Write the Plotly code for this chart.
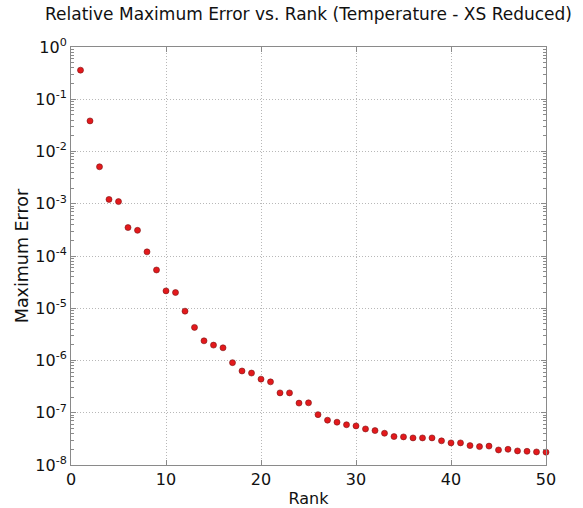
import plotly.graph_objects as go

# Rank of the reduced basis and relative maximum error at that rank
rank = list(range(1, 51))
max_error = [
    3.6e-1, 3.85e-2, 5.1e-3, 1.21e-3, 1.1e-3, 3.5e-4, 3.1e-4, 1.2e-4, 5.4e-5, 2.15e-5,
    2.0e-5, 8.8e-6, 4.3e-6, 2.38e-6, 1.97e-6, 1.75e-6, 9.1e-7, 6.3e-7, 5.75e-7, 4.4e-7,
    3.9e-7, 2.4e-7, 2.4e-7, 1.53e-7, 1.55e-7, 9.2e-8, 7.2e-8, 6.6e-8, 5.9e-8, 5.6e-8,
    4.9e-8, 4.56e-8, 4.05e-8, 3.5e-8, 3.45e-8, 3.3e-8, 3.3e-8, 3.3e-8, 2.9e-8, 2.65e-8,
    2.65e-8, 2.35e-8, 2.25e-8, 2.3e-8, 1.94e-8, 2.0e-8, 1.86e-8, 1.83e-8, 1.78e-8, 1.76e-8,
]

x_ticks = [0, 10, 20, 30, 40, 50]
y_exponents = list(range(-8, 1))
y_tickvals = [10.0 ** e for e in y_exponents]
y_ticktext = [f"10<sup>{e}</sup>" for e in y_exponents]
y_minor = [m * 10.0 ** e for e in y_exponents[:-1] for m in range(2, 10)]

font = "DejaVu Sans, sans-serif"

fig = go.Figure(
    go.Scatter(
        x=rank,
        y=max_error,
        mode="markers",
        marker=dict(size=6, color="#e3191c", line=dict(color="#7a1414", width=0.6)),
        cliponaxis=False,
    )
)

axis_common = dict(
    showline=True,
    linecolor="#8a8a8a",
    linewidth=1,
    mirror="ticks",
    ticks="inside",
    ticklen=5,
    tickcolor="#8a8a8a",
    showgrid=True,
    gridcolor="#b8b8b8",
    griddash="1px,2px",
    gridwidth=1,
    zeroline=False,
    automargin=False,
    tickfont=dict(family=font, size=16, color="#111111"),
)

fig.update_xaxes(
    range=[0, 50],
    tickvals=x_ticks,
    title=dict(text="Rank", font=dict(family=font, size=16, color="#111111"), standoff=8),
    **axis_common,
)
fig.update_yaxes(
    type="log",
    range=[-8, 0],
    tickvals=y_tickvals,
    ticktext=y_ticktext,
    minor=dict(tickvals=y_minor, ticks="inside", ticklen=3, tickcolor="#8a8a8a", showgrid=False),
    title=dict(text="Maximum Error", font=dict(family=font, size=17.5, color="#111111"), standoff=2),
    **axis_common,
)

fig.update_layout(
    width=583,
    height=508,
    margin=dict(l=71, r=37, t=47, b=43),
    paper_bgcolor="white",
    plot_bgcolor="white",
    showlegend=False,
    title=dict(
        text="Relative Maximum Error vs. Rank (Temperature - XS Reduced)",
        font=dict(family=font, size=17, color="#111111"),
        x=0.5,
        xref="paper",
        xanchor="center",
        y=0.972,
        yref="container",
        yanchor="middle",
    ),
)

fig.write_html("out.html")
